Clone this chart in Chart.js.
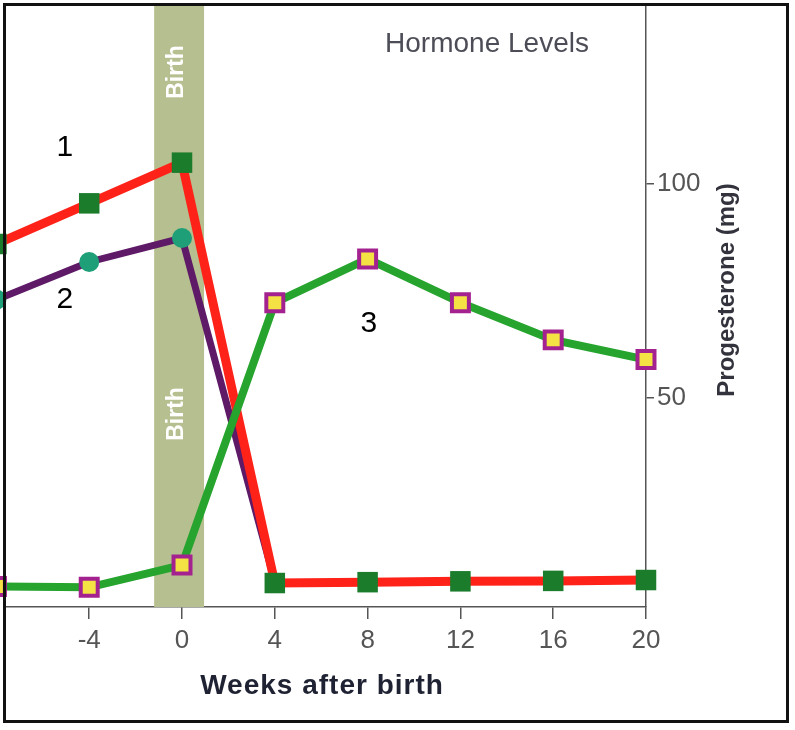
<!DOCTYPE html>
<html>
<head>
<meta charset="utf-8">
<title>Hormone Levels</title>
<script src="https://cdn.jsdelivr.net/npm/chart.js@4.4.1/dist/chart.umd.min.js"></script>
<style>
  html, body { margin: 0; padding: 0; background: #fff; }
  canvas { display: block; }
</style>
</head>
<body>
<canvas id="hormoneChart" width="795" height="730"></canvas>
<script>
// weeks after birth
const weeks = [-8, -4, 0, 4, 8, 12, 16, 20];
// curve 1 (red line, green squares)
const hormoneOne = [86, 95.5, 105, 6.8, 7.0, 7.2, 7.3, 7.5];
// curve 2 (purple line, teal dots) - runs under curve 1 after birth
const hormoneTwo = [73, 81.8, 87.4, 7.0, null, null, null, null];
// curve 3 (green line, yellow squares)
const progesterone = [6.0, 5.8, 11, 72.3, 82.5, 72.3, 63.6, 59.0];

const xTicks = [-4, 0, 4, 8, 12, 16, 20];
const yTicks = [50, 100];

const FONT = "'Liberation Sans', Arial, Helvetica, sans-serif";

function toPoints(vals) {
  return weeks.map((w, i) => ({ x: w, y: vals[i] }));
}

// no label overflow padding, the chart area is set by the layout padding
function noPad(s) {
  s.paddingLeft = 0;
  s.paddingRight = 0;
  s.paddingTop = 0;
  s.paddingBottom = 0;
}

const decor = {
  id: 'decor',
  beforeDatasetsDraw(chart) {
    const { ctx, chartArea, scales: { x, y } } = chart;
    const x0 = x.getPixelForValue(-1.2);
    const x1 = x.getPixelForValue(0.95);
    ctx.save();
    ctx.fillStyle = '#b6bf8f';
    ctx.fillRect(x0, chartArea.top, x1 - x0, chartArea.bottom - chartArea.top);

    ctx.fillStyle = '#ffffff';
    ctx.font = 'bold 23px ' + FONT;
    ctx.textAlign = 'center';
    ctx.textBaseline = 'middle';
    [126.2, 46.3].forEach(v => {
      ctx.save();
      ctx.translate((x0 + x1) / 2 - 2, y.getPixelForValue(v));
      ctx.rotate(-Math.PI / 2);
      ctx.fillText('Birth', 0, 0);
      ctx.restore();
    });
    ctx.restore();
  },
  afterDraw(chart) {
    const { ctx, scales: { x, y } } = chart;
    ctx.save();
    ctx.textAlign = 'center';
    ctx.textBaseline = 'middle';

    // chart title
    ctx.fillStyle = '#4d4d57';
    ctx.font = '28px ' + FONT;
    ctx.fillText('Hormone Levels', 487, 44);

    // curve numbers
    ctx.fillStyle = '#000';
    ctx.font = '30px ' + FONT;
    ctx.fillText('1', x.getPixelForValue(-5.05), y.getPixelForValue(108.4));
    ctx.fillText('2', x.getPixelForValue(-5.05), y.getPixelForValue(72.9));
    ctx.fillText('3', x.getPixelForValue(8.05), y.getPixelForValue(67.3));

    // x axis title
    ctx.fillStyle = '#1f2232';
    ctx.font = 'bold 28px ' + FONT;
    ctx.letterSpacing = '1px';
    ctx.fillText('Weeks after birth', 322, 686);
    ctx.letterSpacing = '0px';

    // y axis title (reads bottom to top)
    ctx.save();
    ctx.fillStyle = '#33333d';
    ctx.font = 'bold 24px ' + FONT;
    ctx.translate(727, 290);
    ctx.rotate(-Math.PI / 2);
    ctx.fillText('Progesterone (mg)', 0, 0);
    ctx.restore();

    // frame
    ctx.strokeStyle = '#111';
    ctx.lineWidth = 3;
    ctx.strokeRect(4.5, 4.5, 783, 717);
    ctx.restore();
  }
};

new Chart(document.getElementById('hormoneChart'), {
  type: 'line',
  data: {
    datasets: [
      {
        label: '3',
        data: toPoints(progesterone),
        borderColor: '#26a42e',
        borderWidth: 8,
        pointStyle: 'rect',
        pointRadius: 12,
        pointBackgroundColor: '#f4e244',
        pointBorderColor: '#a4228f',
        pointBorderWidth: 4,
        clip: false
      },
      {
        label: '1',
        data: toPoints(hormoneOne),
        borderColor: '#ff2218',
        borderWidth: 9,
        pointStyle: 'rect',
        pointRadius: 14.5,
        pointBackgroundColor: '#1b7c2c',
        pointBorderWidth: 0,
        clip: false
      },
      {
        label: '2',
        data: toPoints(hormoneTwo),
        borderColor: '#5e1a67',
        borderWidth: 7,
        pointStyle: 'circle',
        pointRadius: ctx => ctx.dataIndex < 3 ? 10 : 0,
        pointBackgroundColor: '#1e9f78',
        pointBorderWidth: 0,
        clip: false
      }
    ]
  },
  options: {
    responsive: false,
    animation: false,
    devicePixelRatio: 1,
    layout: { autoPadding: false, padding: { left: 5, top: 6, right: 0, bottom: 0 } },
    plugins: {
      legend: { display: false },
      tooltip: { enabled: false }
    },
    scales: {
      x: {
        type: 'linear',
        min: -7.63,
        max: 20,
        afterBuildTicks: s => { s.ticks = xTicks.map(v => ({ value: v })); },
        afterFit: s => { s.height = 123; noPad(s); },
        grid: { drawOnChartArea: false, tickLength: 12, color: '#555', lineWidth: 1.5 },
        border: { display: true, color: '#555', width: 1.5 },
        ticks: {
          color: '#555',
          font: { family: FONT, size: 26 },
          padding: 6,
          maxRotation: 0
        }
      },
      y: {
        position: 'right',
        min: 1.2,
        max: 141.6,
        afterBuildTicks: s => { s.ticks = yTicks.map(v => ({ value: v })); },
        afterFit: s => { s.width = 149; noPad(s); },
        grid: { drawOnChartArea: false, tickLength: 8, color: '#555', lineWidth: 1.5 },
        border: { display: true, color: '#555', width: 1.5 },
        ticks: {
          color: '#555',
          font: { family: FONT, size: 26 },
          padding: 3
        }
      }
    }
  },
  plugins: [decor]
});
</script>
</body>
</html>
